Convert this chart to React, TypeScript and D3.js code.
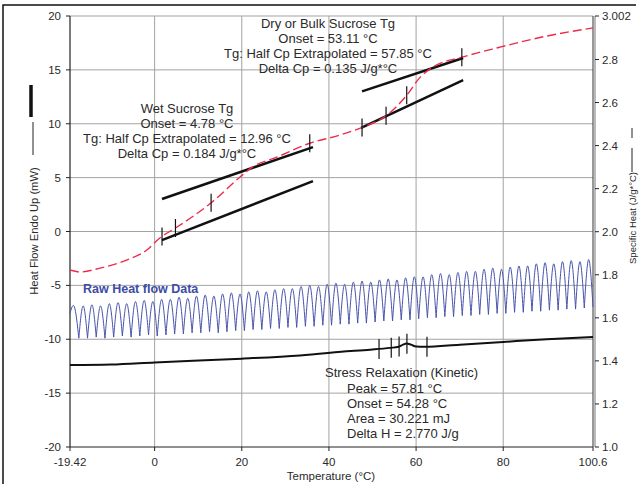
import React from "react";
import * as d3 from "d3";

// specific heat (reversing Cp), right axis
const cpTemps = [-19.42, -17.1, -12.5, -6.3, -1.8, 1.2, 4.7, 13.2, 19.6, 22.4, 28, 35.6, 42.5, 47.8, 53.3, 57.9, 60.9, 63.9, 70.8, 79.2, 88.4, 100.6];
const cpValues = [1.822, 1.813, 1.831, 1.869, 1.915, 1.971, 2.016, 2.138, 2.254, 2.3, 2.346, 2.411, 2.449, 2.486, 2.541, 2.635, 2.717, 2.765, 2.812, 2.857, 2.902, 2.947];

// tangent lines used for the Tg analysis (temp, Cp)
const wetUpper = [[1.69, 2.152], [36.34, 2.393]];
const wetLower = [[1.69, 1.961], [36.34, 2.235]];
const dryUpper = [[47.6, 2.652], [70.8, 2.807]];
const dryLower = [[47.4, 2.482], [70.8, 2.704]];
const wetMarks = [1.7, 4.78, 12.96, 35.6];
const dryMarks = [47.6, 53.11, 57.85, 70.5];

// heat flow (total), left axis
const hfTemps = [-19.42, -10, 0, 20, 33.4, 45, 50, 54, 56, 57, 57.8, 58.8, 60, 62, 70, 80, 90, 100.6];
const hfValues = [-12.4, -12.35, -12.15, -11.8, -11.5, -11.1, -10.95, -10.8, -10.7, -10.5, -10.4, -10.5, -10.68, -10.7, -10.5, -10.25, -10.0, -9.8];
const hfMarks = [51.5, 54.3, 56.1, 57.9, 62.5];

// raw modulated heat flow
const rawStart = [-19.42, -7.6];
const rawPeakTemps = [-18.4, -16.4, -14.4, -12.4, -10.4, -8.4, -6.4, -4.4, -2.4, -0.4, 1.6, 3.6, 5.6, 7.6, 9.6, 11.6, 13.6, 15.6, 17.6, 19.6, 21.6, 23.6, 25.6, 27.6, 29.6, 31.6, 33.6, 35.6, 37.6, 39.6, 41.6, 43.6, 45.6, 47.6, 49.6, 51.6, 53.6, 55.6, 57.6, 59.6, 61.6, 63.6, 65.6, 67.6, 69.6, 71.6, 73.6, 75.6, 77.6, 79.6, 81.6, 83.6, 85.6, 87.6, 89.6, 91.6, 93.6, 95.6, 97.6, 99.6];
const rawPeakValues = [-7.0, -6.9, -6.8, -6.9, -6.7, -6.6, -6.7, -6.5, -6.4, -6.5, -6.3, -6.3, -6.1, -6.2, -6.0, -5.9, -6.0, -5.8, -5.7, -5.8, -5.6, -5.5, -5.6, -5.4, -5.3, -5.3, -5.1, -5.0, -5.1, -4.9, -4.8, -4.9, -4.7, -4.6, -4.7, -4.5, -4.4, -4.5, -4.3, -4.2, -4.2, -4.0, -3.9, -4.0, -3.8, -3.7, -3.7, -3.5, -3.4, -3.5, -3.3, -3.2, -3.2, -3.0, -2.9, -3.0, -2.8, -2.7, -2.8, -2.6];
const rawTroughTemps = [-17.4, -15.4, -13.4, -11.4, -9.4, -7.4, -5.4, -3.4, -1.4, 0.6, 2.6, 4.6, 6.6, 8.6, 10.6, 12.6, 14.6, 16.6, 18.6, 20.6, 22.6, 24.6, 26.6, 28.6, 30.6, 32.6, 34.6, 36.6, 38.6, 40.6, 42.6, 44.6, 46.6, 48.6, 50.6, 52.6, 54.6, 56.6, 58.6, 60.6, 62.6, 64.6, 66.6, 68.6, 70.6, 72.6, 74.6, 76.6, 78.6, 80.6, 82.6, 84.6, 86.6, 88.6, 90.6, 92.6, 94.6, 96.6, 98.6, 100.6];
const rawTroughValues = [-9.9, -9.9, -9.8, -9.9, -9.8, -9.7, -9.8, -9.7, -9.6, -9.7, -9.6, -9.5, -9.5, -9.4, -9.4, -9.3, -9.4, -9.3, -9.2, -9.2, -9.1, -9.1, -9.0, -9.0, -8.9, -8.9, -8.8, -8.8, -8.7, -8.7, -8.6, -8.6, -8.5, -8.5, -8.4, -8.3, -8.3, -8.2, -8.2, -8.1, -8.0, -8.0, -7.9, -7.9, -7.8, -7.8, -7.7, -7.7, -7.6, -7.6, -7.5, -7.5, -7.4, -7.4, -7.3, -7.3, -7.2, -7.2, -7.1, -7.0];

const xTicks = [-19.42, 0, 20, 40, 60, 80, 100.6];
const xGrid = [0, 20, 40, 60, 80];
const leftTicks = [-20, -15, -10, -5, 0, 5, 10, 15, 20];
const rightTicks = [1.0, 1.2, 1.4, 1.6, 1.8, 2.0, 2.2, 2.4, 2.6, 2.8, 3.002];

const wetText = ["Wet Sucrose Tg", "Onset = 4.78 \u00b0C", "Tg: Half Cp Extrapolated = 12.96 \u00b0C", "Delta Cp = 0.184 J/g*\u00b0C"];
const dryText = ["Dry or Bulk Sucrose Tg", "Onset = 53.11 \u00b0C", "Tg: Half Cp Extrapolated = 57.85 \u00b0C", "Delta Cp = 0.135 J/g*\u00b0C"];
const peakText = ["Peak = 57.81 \u00b0C", "Onset = 54.28 \u00b0C", "Area = 30.221 mJ", "Delta H = 2.770 J/g"];

const W = 641;
const H = 484;
const FONT = "'Liberation Sans', Arial, sans-serif";
const TXT = "#2a2a2a";
const GRID = "#a3a3a3";

export default function App() {
  const x = d3.scaleLinear().domain([-19.42, 100.6]).range([70, 593]);
  const yL = d3.scaleLinear().domain([-20, 20]).range([447, 16]);
  const yR = d3.scaleLinear().domain([1.0, 3.002]).range([447, 16]);

  const cpLine = d3.line<number>().x((_, i) => x(cpTemps[i])).y((d) => yR(d)).curve(d3.curveMonotoneX);
  const hfLine = d3.line<number>().x((_, i) => x(hfTemps[i])).y((d) => yL(d)).curve(d3.curveMonotoneX);
  const seg = d3.line<number[]>().x((d) => x(d[0])).y((d) => yR(d[1]));

  // each raw cycle is an arch: trough -> peak -> trough
  const arch = d3.line<number[]>().x((d) => x(d[0])).y((d) => yL(d[1])).curve(d3.curveNatural);
  let rawPath = "";
  let prev = rawStart;
  rawPeakTemps.forEach((t, i) => {
    const tr = [rawTroughTemps[i], rawTroughValues[i]];
    rawPath += arch([prev, [t, rawPeakValues[i]], tr]);
    prev = tr;
  });

  const cpAt = (t: number) => d3.scaleLinear().domain(cpTemps).range(cpValues)(t);
  const hfAt = (t: number) => d3.scaleLinear().domain(hfTemps).range(hfValues)(t);

  return (
    <div style={{ position: "absolute", left: 0, top: 0 }}>
      <svg width={W} height={H} style={{ display: "block", background: "#fff" }} fontFamily={FONT}>
        <path d="M3,490 V5 H636" fill="none" stroke="#111" strokeWidth={1.5} />

        {/* grid */}
        {xGrid.map((t) => (
          <line key={"gx" + t} x1={x(t)} x2={x(t)} y1={yL(20)} y2={yL(-20)} stroke={GRID} strokeWidth={1} />
        ))}
        {leftTicks.slice(1).map((v) => (
          <line key={"gy" + v} x1={x(-19.42)} x2={x(100.6)} y1={yL(v)} y2={yL(v)} stroke={GRID} strokeWidth={1} />
        ))}

        {/* axes */}
        <line x1={x(-19.42)} x2={x(-19.42)} y1={yL(20)} y2={yL(-20)} stroke="#222" strokeWidth={1.2} />
        <line x1={x(-19.42)} x2={x(100.6)} y1={yL(-20)} y2={yL(-20)} stroke="#222" strokeWidth={1.2} />
        <line x1={x(100.6)} x2={x(100.6)} y1={yR(3.002)} y2={yR(1)} stroke="#333" strokeWidth={1} />
        <line x1={x(100.6) + 2} x2={x(100.6) + 2} y1={yR(3.002)} y2={yR(1)} stroke="#777" strokeWidth={1} />

        {leftTicks.map((v) => (
          <g key={"lt" + v}>
            <line x1={x(-19.42) - 4} x2={x(-19.42)} y1={yL(v)} y2={yL(v)} stroke="#222" />
            <text x={x(-19.42) - 9} y={yL(v)} dy="0.35em" textAnchor="end" fontSize={11.5} fill={TXT}>{v}</text>
          </g>
        ))}
        {rightTicks.map((v) => (
          <g key={"rt" + v}>
            <line x1={x(100.6) + 2} x2={x(100.6) + 6} y1={yR(v)} y2={yR(v)} stroke="#222" />
            <text x={x(100.6) + 9} y={yR(v)} dy="0.35em" textAnchor="start" fontSize={11.5} fill={TXT}>
              {v === 3.002 ? "3.002" : v.toFixed(1)}
            </text>
          </g>
        ))}
        {xTicks.map((t) => (
          <g key={"xt" + t}>
            <line x1={x(t)} x2={x(t)} y1={yL(-20)} y2={yL(-20) + 4} stroke="#222" />
            <text x={x(t)} y={466} textAnchor="middle" fontSize={11.5} fill={TXT}>{t}</text>
          </g>
        ))}

        <text x={331} y={480} textAnchor="middle" fontSize={11.5} fill={TXT}>Temperature (°C)</text>
        <text transform={`translate(38,231) rotate(-90)`} textAnchor="middle" fontSize={11.2} fill={TXT}>Heat Flow Endo Up (mW)</text>
        <line x1={33} x2={33} y1={122} y2={155} stroke="#222" strokeWidth={1} />
        <line x1={31} x2={31} y1={85} y2={117} stroke="#111" strokeWidth={3.5} />
        <text transform={`translate(636,218) rotate(-90)`} textAnchor="middle" fontSize={9.5} fill={TXT}>Specific Heat (J/g*°C)</text>
        <line x1={632} x2={632} y1={148} y2={172} stroke="#222" strokeWidth={1} />
        <line x1={632} x2={632} y1={128} y2={138} stroke="#222" strokeWidth={1} />

        {/* raw modulated heat flow */}
        <path d={rawPath} fill="none" stroke="#4753ab" strokeWidth={1} />
        <text x={83} y={293} fontSize={12.5} fontWeight="bold" fill="#3c4ba6">Raw Heat flow Data</text>

        {/* heat flow */}
        <path d={hfLine(hfValues) || ""} fill="none" stroke="#111" strokeWidth={2} />
        {hfMarks.map((t) => (
          <line key={"hm" + t} x1={x(t)} x2={x(t)} y1={yL(hfAt(t)) - 10} y2={yL(hfAt(t)) + 10} stroke="#111" strokeWidth={1.2} />
        ))}

        {/* tangents */}
        {[wetUpper, wetLower, dryUpper, dryLower].map((s, i) => (
          <path key={"tg" + i} d={seg(s) || ""} fill="none" stroke="#111" strokeWidth={2.5} />
        ))}

        {/* specific heat */}
        <path d={cpLine(cpValues) || ""} fill="none" stroke="#ee2a4a" strokeWidth={1.4} strokeDasharray="9,4" />
        {[...wetMarks, ...dryMarks].map((t) => (
          <line key={"cm" + t} x1={x(t)} x2={x(t)} y1={yR(cpAt(t)) - 9} y2={yR(cpAt(t)) + 9} stroke="#111" strokeWidth={1.2} />
        ))}

        {/* annotations */}
        {wetText.map((s, i) => (
          <text key={"w" + i} x={187} y={113 + i * 15} textAnchor="middle" fontSize={13} fill={TXT}>{s}</text>
        ))}
        {dryText.map((s, i) => (
          <text key={"d" + i} x={328} y={28 + i * 15} textAnchor="middle" fontSize={13} fill={TXT}>{s}</text>
        ))}
        <text x={325} y={377} fontSize={13} fill={TXT}>Stress Relaxation (Kinetic)</text>
        {peakText.map((s, i) => (
          <text key={"p" + i} x={347} y={393 + i * 15} fontSize={13} fill={TXT}>{s}</text>
        ))}
      </svg>
    </div>
  );
}
